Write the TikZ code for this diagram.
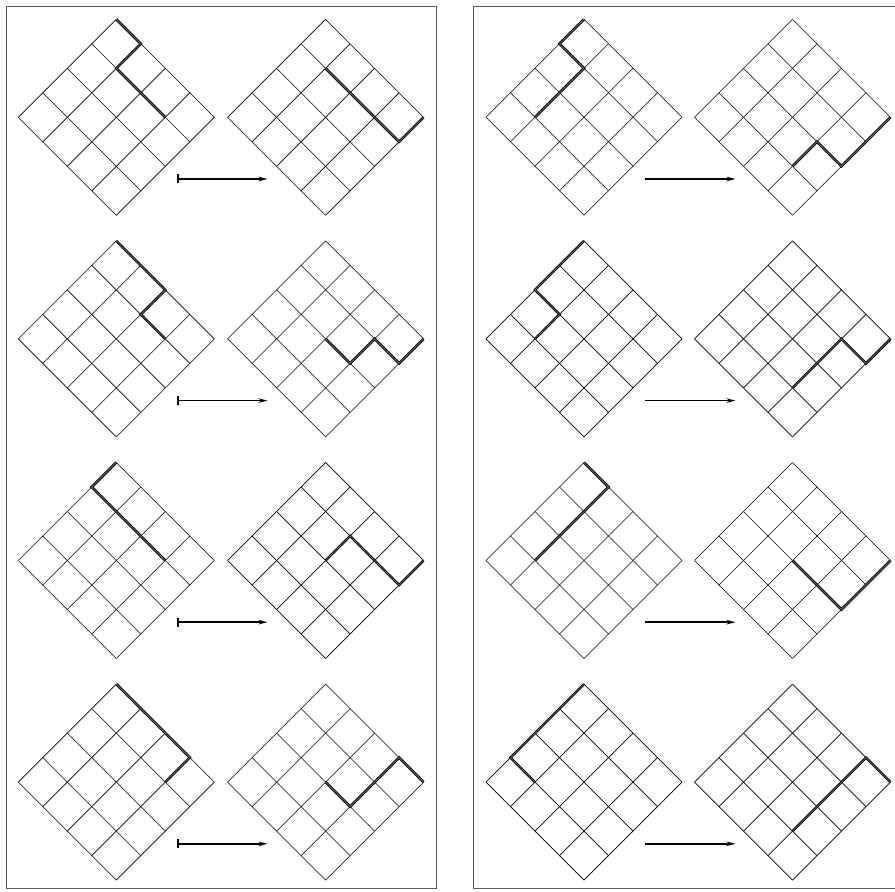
\documentclass[tikz,border=0pt]{standalone}
\usetikzlibrary{arrows.meta}
\begin{document}
\begin{tikzpicture}[x=1pt, y=1pt,
    gridline/.style={line width=0.6pt},
    latpath/.style={line width=0.9pt, double=black!60, double distance=0.8pt, line join=miter},
    frame/.style={draw=black!65, line width=0.7pt},
    mapsto/.style={line width=1.5pt, |-{Stealth[length=9pt, width=4.5pt]}},
    mapto/.style={line width=1.5pt, -{Stealth[length=9pt, width=4.5pt]}}]
  \clip (0,0) rectangle (895,892);
  \draw[frame] (6,3.5) rectangle (436,885.5);
  \draw[frame] (473.5,3.5) rectangle (903.5,885.5);
  % x of top corner / y of top corner / thick path in grid units
  \foreach \tx/\ty/\pth in {
      116.3/872.7/{(0,0)--(1,0)--(1,1)--(3,1)}, 325.6/872.7/{(1,1)--(4,1)--(4,0)},
      584/872.7/{(0,0)--(0,1)--(1,1)--(1,3)}, 792.5/872.7/{(3,3)--(3,2)--(4,2)--(4,0)},
      116.3/651.1/{(0,0)--(2,0)--(2,1)--(3,1)}, 325.6/651.1/{(2,2)--(3,2)--(3,1)--(4,1)--(4,0)},
      584/651.1/{(0,0)--(0,2)--(1,2)--(1,3)}, 792.5/651.1/{(3,3)--(3,1)--(4,1)--(4,0)},
      116.3/429.5/{(0,0)--(0,1)--(3,1)}, 325.6/429.5/{(2,2)--(2,1)--(4,1)--(4,0)},
      584/429.5/{(0,0)--(1,0)--(1,3)}, 792.5/429.5/{(2,2)--(4,2)--(4,0)},
      116.3/207.9/{(0,0)--(3,0)--(3,1)}, 325.6/207.9/{(2,2)--(3,2)--(3,0)--(4,0)},
      584/207.9/{(0,0)--(0,3)--(1,3)}, 792.5/207.9/{(3,3)--(3,0)--(4,0)}} {
    \begin{scope}[shift={(\tx,\ty)}, rotate=-45, yscale=-1, scale=34.65]
      \foreach \k in {0,...,4} {
        \draw[gridline] (\k,0) -- (\k,4);
        \draw[gridline] (0,\k) -- (4,\k);
      }
      \draw[latpath] \pth;
    \end{scope}
  }
  \foreach \r in {0,...,3} {
    \coordinate (ls\r) at (177,713-221.6*\r); \coordinate (le\r) at (267.5,713-221.6*\r);
    \coordinate (rs\r) at (644.5,713-221.6*\r); \coordinate (re\r) at (735.5,713-221.6*\r);
    \draw[mapsto] (ls\r) -- (le\r); \draw[mapto] (rs\r) -- (re\r);
  }
\end{tikzpicture}
\end{document}
